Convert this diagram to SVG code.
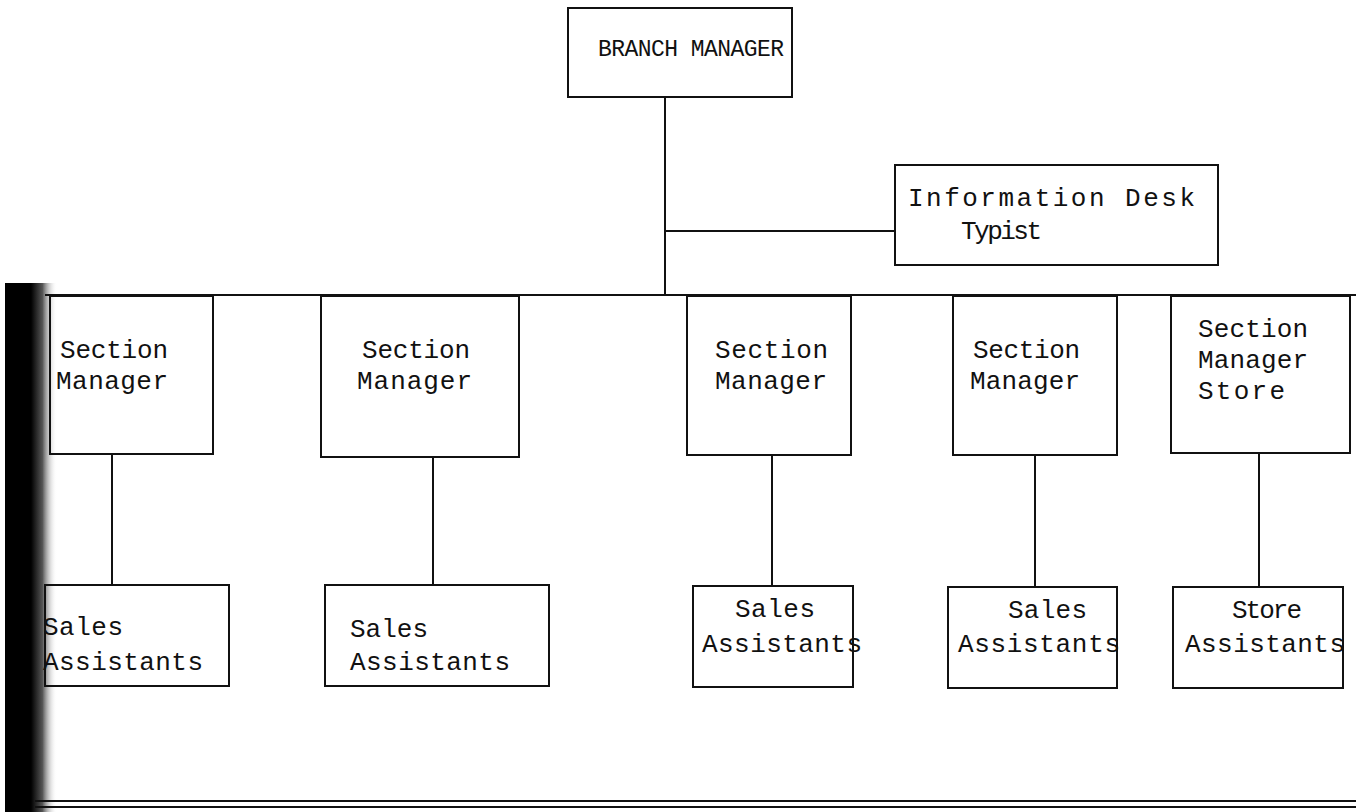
<svg xmlns="http://www.w3.org/2000/svg" width="1356" height="812" viewBox="0 0 1356 812">
<style>
.box{fill:none;stroke:#111;stroke-width:2}
.ln{stroke:#111;stroke-width:2;fill:none}
text{font-family:"Liberation Mono","DejaVu Sans Mono",monospace;font-size:26px;fill:#111}
.sm{font-size:23px}
</style>
<defs>
<linearGradient id="edge" x1="0" y1="0" x2="1" y2="0">
<stop offset="0" stop-color="#000"/>
<stop offset="0.5" stop-color="#000"/>
<stop offset="0.72" stop-color="#555"/>
<stop offset="1" stop-color="#fff" stop-opacity="0"/>
</linearGradient>
</defs>
<rect width="1356" height="812" fill="#fff"/>
<rect x="5" y="283" width="52" height="529" fill="url(#edge)"/>
<g id="connectors">
<line class="ln" x1="665" y1="97" x2="665" y2="295"/>
<line class="ln" x1="665" y1="231" x2="895" y2="231"/>
<line class="ln" x1="45" y1="295" x2="1356" y2="295"/>
<line class="ln" x1="112" y1="454" x2="112" y2="585"/>
<line class="ln" x1="433" y1="457" x2="433" y2="585"/>
<line class="ln" x1="772" y1="455" x2="772" y2="586"/>
<line class="ln" x1="1035" y1="455" x2="1035" y2="587"/>
<line class="ln" x1="1259" y1="453" x2="1259" y2="587"/>
</g>
<g id="branch-manager">
<rect class="box" x="568" y="8" width="224" height="89"/>
<text class="sm" x="598" y="56" textLength="186" lengthAdjust="spacing">BRANCH MANAGER</text>
</g>
<g id="info-desk">
<rect class="box" x="895" y="165" width="323" height="100"/>
<text x="908" y="206" textLength="287" lengthAdjust="spacing">Information Desk</text>
<text x="961" y="239" textLength="81" lengthAdjust="spacing">Typist</text>
</g>
<g id="sm1">
<rect class="box" x="50" y="296" width="163" height="158"/>
<text x="60" y="358" textLength="108" lengthAdjust="spacing">Section</text>
<text x="56" y="389" textLength="112" lengthAdjust="spacing">Manager</text>
</g>
<g id="sm2">
<rect class="box" x="321" y="296" width="198" height="161"/>
<text x="362" y="358" textLength="108" lengthAdjust="spacing">Section</text>
<text x="357" y="389" textLength="115" lengthAdjust="spacing">Manager</text>
</g>
<g id="sm3">
<rect class="box" x="687" y="296" width="164" height="159"/>
<text x="715" y="358" textLength="113" lengthAdjust="spacing">Section</text>
<text x="715" y="389" textLength="112" lengthAdjust="spacing">Manager</text>
</g>
<g id="sm4">
<rect class="box" x="953" y="296" width="164" height="159"/>
<text x="973" y="358" textLength="107" lengthAdjust="spacing">Section</text>
<text x="970" y="389" textLength="110" lengthAdjust="spacing">Manager</text>
</g>
<g id="sm5">
<rect class="box" x="1171" y="296" width="179" height="157"/>
<text x="1198" y="337" textLength="110" lengthAdjust="spacing">Section</text>
<text x="1198" y="368" textLength="110" lengthAdjust="spacing">Manager</text>
<text x="1198" y="399" textLength="87" lengthAdjust="spacing">Store</text>
</g>
<g id="sa1">
<rect class="box" x="45" y="585" width="184" height="101"/>
<text x="43" y="635" textLength="80" lengthAdjust="spacing">Sales</text>
<text x="43" y="670" textLength="160" lengthAdjust="spacing">Assistants</text>
</g>
<g id="sa2">
<rect class="box" x="325" y="585" width="224" height="101"/>
<text x="350" y="637" textLength="78" lengthAdjust="spacing">Sales</text>
<text x="350" y="670" textLength="160" lengthAdjust="spacing">Assistants</text>
</g>
<g id="sa3">
<rect class="box" x="693" y="586" width="160" height="101"/>
<text x="735" y="617" textLength="80" lengthAdjust="spacing">Sales</text>
<text x="702" y="652" textLength="160" lengthAdjust="spacing">Assistants</text>
</g>
<g id="sa4">
<rect class="box" x="948" y="587" width="169" height="101"/>
<text x="1008" y="618" textLength="79" lengthAdjust="spacing">Sales</text>
<text x="958" y="652" textLength="162" lengthAdjust="spacing">Assistants</text>
</g>
<g id="sa5">
<rect class="box" x="1173" y="587" width="170" height="101"/>
<text x="1232" y="618" textLength="70" lengthAdjust="spacing">Store</text>
<text x="1185" y="652" textLength="160" lengthAdjust="spacing">Assistants</text>
</g>
<line class="ln" x1="35" y1="801" x2="1356" y2="801"/>
<line class="ln" x1="35" y1="807" x2="1356" y2="807"/>
</svg>
